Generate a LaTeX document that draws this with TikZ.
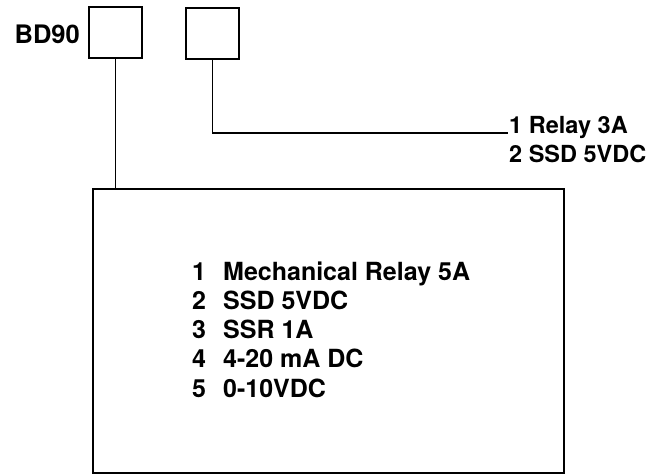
\documentclass[tikz,border=0pt]{standalone}
\usepackage{fontspec}
\setmainfont{TeX Gyre Heros}
\begin{document}
\begin{tikzpicture}[x=1pt,y=-1pt,
  box/.style={draw,line width=2pt,inner sep=0pt,minimum width=53pt,minimum height=51pt},
  wire/.style={line width=1.8pt},
  lbl/.style={inner sep=0pt,font=\fontsize{23.5}{28}\selectfont\bfseries},
  item/.style={inner sep=0pt,anchor=base west,font=\fontsize{25}{29}\selectfont\bfseries}]
\useasboundingbox (0,0) rectangle (669,475);
\node[box] (box1) at (115.5,32.5) {};
\node[box] (box2) at (212.5,33.5) {};
\node[lbl,anchor=base east,font=\fontsize{25.5}{28}\selectfont\bfseries] (bd) at (80,43) {BD90};
\node[draw,line width=2pt,inner sep=0pt,minimum width=471pt,minimum height=284pt] (big) at (328.5,331) {};
\coordinate (relayend) at (508,133);
\draw[wire] (box1.south) -- (box1.south |- big.north);
\draw[wire] (box2.south) |- (relayend);
\node[lbl,anchor=base west] (r1) at (509,133) {1 Relay 3A};
\node[lbl,anchor=base west] (r2) at (509,162) {2 SSD 5VDC};
\node[item] (i1) at (192,280) {\makebox[31pt][l]{1}Mechanical Relay 5A};
\node[item] (i2) at (192,309) {\makebox[31pt][l]{2}SSD 5VDC};
\node[item] (i3) at (192,338) {\makebox[31pt][l]{3}SSR 1A};
\node[item] (i4) at (192,367.5) {\makebox[31pt][l]{4}4-20 mA DC};
\node[item] (i5) at (192,397) {\makebox[31pt][l]{5}0-10VDC};
\end{tikzpicture}
\end{document}
